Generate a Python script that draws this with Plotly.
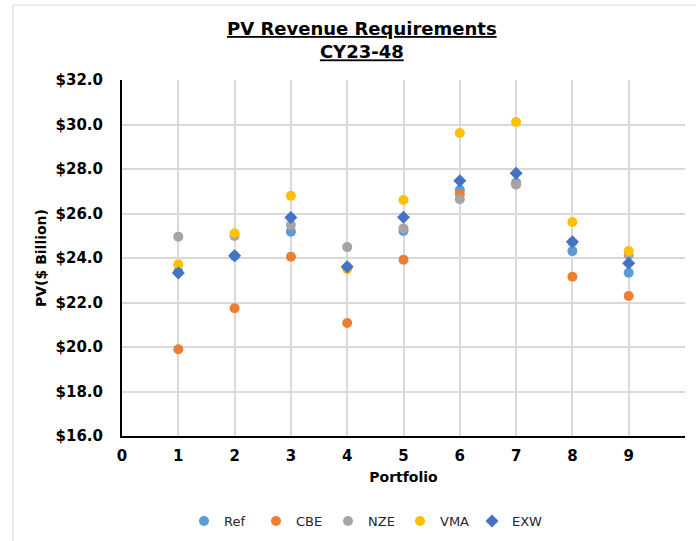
import plotly.graph_objects as go

portfolios = [1, 2, 3, 4, 5, 6, 7, 8, 9]
ref = [23.38, 24.09, 25.18, 23.58, 25.21, 27.06, 27.38, 24.31, 23.34]
cbe = [19.90, 21.74, 24.06, 21.08, 23.92, 26.88, 27.31, 23.16, 22.29]
nze = [24.96, 24.99, 25.48, 24.49, 25.33, 26.64, 27.30, 24.70, 24.12]
vma = [23.72, 25.11, 26.80, 23.50, 26.61, 29.62, 30.11, 25.62, 24.31]
exw = [23.33, 24.10, 25.82, 23.61, 25.83, 27.47, 27.81, 24.73, 23.76]

series = [
    ("Ref", ref, "#5B9BD5", "circle", 10),
    ("CBE", cbe, "#ED7D31", "circle", 10),
    ("NZE", nze, "#A5A5A5", "circle", 10),
    ("VMA", vma, "#FFC000", "circle", 10),
    ("EXW", exw, "#4472C4", "diamond", 10),
]

x_ticks = [0, 1, 2, 3, 4, 5, 6, 7, 8, 9, 10]
x_labels = ["0", "1", "2", "3", "4", "5", "6", "7", "8", "9", ""]

fig = go.Figure()
for name, vals, color, sym, size in series:
    fig.add_trace(go.Scatter(
        x=portfolios, y=vals, mode="markers", name=name,
        marker=dict(color=color, symbol=sym, size=size, line=dict(width=0)),
    ))

font_family = "DejaVu Sans"
W, H = 696, 541
ml, mr, mt, mb = 122, 11, 80, 105
pw, ph = W - ml - mr, H - mt - mb

def px(xp):
    return (xp - ml) / pw

def py(yp):
    return (H - mb - yp) / ph

fig.update_layout(
    width=W, height=H,
    margin=dict(l=ml, r=mr, t=mt, b=mb, autoexpand=False),
    paper_bgcolor="white", plot_bgcolor="white",
    font=dict(family=font_family, color="#000000"),
    showlegend=True,
    legend=dict(orientation="h", x=px(364), xanchor="center", y=py(521), yanchor="middle",
                font=dict(size=13, color="#262626", family=font_family),
                itemwidth=30, entrywidth=27, entrywidthmode="pixels", tracegroupgap=0),
    xaxis=dict(range=[0, 10], tickvals=x_ticks, ticktext=x_labels,
               showgrid=True, gridcolor="#D9D9D9", gridwidth=1.5,
               showline=True, linecolor="#000000", linewidth=2,
               ticks="", zeroline=False, automargin=False, ticklabelstandoff=5,
               tickfont=dict(size=15, family=font_family, color="#000000", weight="bold"),
               title=dict(text="<b>Portfolio</b>", font=dict(size=14, family=font_family), standoff=8)),
    yaxis=dict(range=[16, 32], dtick=2, tickprefix="$", tickformat=".1f",
               showgrid=True, gridcolor="#D9D9D9", gridwidth=1.5,
               showline=True, linecolor="#000000", linewidth=2,
               ticks="", zeroline=False, automargin=False, ticklabelstandoff=14,
               tickfont=dict(size=15, family=font_family, color="#000000", weight="bold"),
               title=dict(text="<b>PV($ Billion)</b>", font=dict(size=14, family=font_family), standoff=6)),
    annotations=[
        dict(text="<b><u>PV Revenue Requirements</u></b><br><b><u>CY23-48</u></b>",
             xref="paper", yref="paper", x=px(362), y=py(40), xanchor="center", yanchor="middle",
             showarrow=False, font=dict(size=18, family=font_family, color="#000000")),
    ],
    shapes=[
        dict(type="rect", xref="paper", yref="paper", x0=px(13), x1=px(720), y0=py(560), y1=py(5),
             line=dict(color="#D9D9D9", width=1), fillcolor="rgba(0,0,0,0)", layer="below"),
    ],
)

fig.write_html("out.html", config={"displayModeBar": False},
               post_script="document.body.style.margin='0';document.body.style.overflow='hidden';")
